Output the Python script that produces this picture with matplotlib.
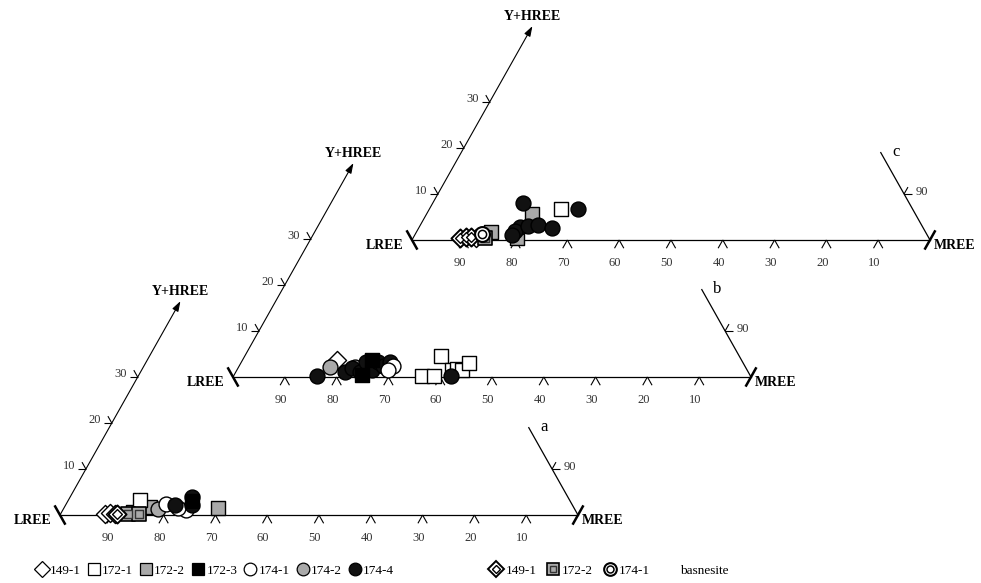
import numpy as np
import matplotlib
matplotlib.use('Agg')
import matplotlib.pyplot as plt
from matplotlib.lines import Line2D

plt.rcParams['font.family'] = ['Liberation Serif', 'DejaVu Serif']

# (LREE %, Y+HREE %); MREE = 100 - LREE - Y+HREE
# diagram a
a_149_1 = [(91.2, 0.3), (90.1, 0.4), (89.3, 0.3)]
a_149_1_bas = [(88.8, 0.2)]
a_172_1 = [(82.9, 3.3)]
a_172_2 = [(81.8, 1.7), (85.6, 0.6), (68.8, 1.5)]
a_172_2_bas = [(86.8, 0.3), (84.6, 0.2)]
a_172_3 = [(73.0, 3.0)]
a_174_1 = [(78.3, 2.4), (75.1, 1.1), (76.5, 1.5)]
a_174_2 = [(80.4, 1.3)]
a_174_4 = [(76.7, 2.2), (72.6, 3.9), (73.4, 2.2)]

# diagram b
b_149_1 = [(78.1, 3.7)]
b_172_1 = [(57.6, 4.6), (63.4, 0.3), (61.1, 0.3), (57.0, 1.5), (55.9, 1.7), (55.0, 1.5), (52.9, 3.0)]
b_172_3 = [(71.3, 3.7), (74.9, 0.4)]
b_174_1 = [(67.9, 2.4), (69.3, 1.5)]
b_174_2 = [(80.2, 2.2), (75.3, 2.2)]
b_174_4 = [(83.6, 0.3), (77.8, 1.1), (76.0, 2.0), (74.9, 1.1), (72.7, 3.3),
           (72.4, 1.5), (70.4, 3.3), (69.8, 2.4), (68.0, 3.3), (57.8, 0.3)]

# diagram c
c_149_1 = [(87.4, 0.4)]
c_149_1_bas = [(90.5, 0.4), (89.3, 0.6), (88.3, 0.6)]
c_172_1 = [(67.9, 6.7)]
c_172_2 = [(83.9, 1.7), (74.0, 5.6), (79.5, 0.4)]
c_172_2_bas = [(85.7, 0.4)]
c_174_1_bas = [(85.8, 1.3)]
c_174_4 = [(74.6, 8.0), (64.6, 6.7), (77.8, 2.8), (79.1, 2.0), (76.1, 3.0),
           (74.0, 3.3), (71.7, 2.6), (80.1, 1.1)]

tick_values = [10, 20, 30, 40, 50, 60, 70, 80, 90]
side_ticks = [10, 20, 30]

H = np.sqrt(3) / 2
GRAY = '#a9a9a9'
offsets = {'a': (0.0, 0.0), 'b': (33.4, 26.0), 'c': (67.95, 51.8)}


def tern(pts, off):
    """(LREE, Y+HREE) -> plot coords"""
    pts = np.asarray(pts, dtype=float).reshape(-1, 2)
    l, y = pts[:, 0], pts[:, 1]
    m = 100 - l - y
    return m + y / 2 + off[0], y * H + off[1]


def seg(ax, p, d, t, lw=0.8):
    ax.plot([p[0], p[0] + d[0] * t], [p[1], p[1] + d[1] * t], color='black', lw=lw,
            solid_capstyle='butt', zorder=2)


def draw_frame(ax, off, letter):
    ox, oy = off
    # base LREE - MREE
    ax.plot([ox, ox + 100], [oy, oy], color='black', lw=0.9, zorder=2)
    # Y+HREE axis with arrow
    tip = (ox + 46.5 / 2, oy + 46.5 * H)
    ax.annotate('', xy=tip, xytext=(ox, oy),
                arrowprops=dict(arrowstyle='-|>,head_length=0.6,head_width=0.2',
                                color='black', lw=0.8, shrinkA=0, shrinkB=0))
    ax.text(tip[0], tip[1] + 1.8, 'Y+HREE', ha='center', va='center',
            fontsize=10, fontweight='bold')
    # right edge stub
    top = (ox + 100 - 19 / 2, oy + 19 * H)
    ax.plot([ox + 100, top[0]], [oy, top[1]], color='black', lw=0.9, zorder=2)
    ax.text(top[0] + 2.2, top[1] + 0.2, letter, ha='left', va='center', fontsize=12)
    # corner marks
    for cx, d in [(ox, (-0.5, H)), (ox + 100, (0.5, H))]:
        ax.plot([cx - d[0] * 2.1, cx + d[0] * 2.1], [oy - d[1] * 2.1, oy + d[1] * 2.1],
                color='black', lw=1.8, solid_capstyle='butt', zorder=2)
    ax.text(ox - 1.6, oy - 1.0, 'LREE', ha='right', va='center', fontsize=10, fontweight='bold')
    ax.text(ox + 100.8, oy - 1.0, 'MREE', ha='left', va='center', fontsize=10, fontweight='bold')
    # bottom ticks (labelled by LREE)
    for v in tick_values:
        p = (ox + 100 - v, oy)
        seg(ax, p, (-0.5, -H), 1.8)
        seg(ax, p, (0.5, -H), 1.8)
        ax.text(p[0] - 0.8, oy - 4.3, str(v), ha='center', va='center', fontsize=9, color='#333333')
    # left ticks
    for v in side_ticks:
        p = (ox + v / 2, oy + v * H)
        seg(ax, p, (-1, 0), 1.5)
        seg(ax, p, (-0.5, H), 1.5)
        ax.text(p[0] - 2.1, p[1] + 0.6, str(v), ha='right', va='center', fontsize=9, color='#333333')
    # right tick
    p = (ox + 100 - 5, oy + 10 * H)
    seg(ax, p, (1, 0), 1.5)
    seg(ax, p, (0.5, H), 1.5)
    ax.text(p[0] + 2.3, p[1] + 0.3, '90', ha='left', va='center', fontsize=9, color='#333333')


# marker styles
sty = {
    '149-1': dict(marker='D', s=85, facecolor='white', edgecolor='black'),
    '172-1': dict(marker='s', s=95, facecolor='white', edgecolor='black'),
    '172-2': dict(marker='s', s=95, facecolor=GRAY, edgecolor='black'),
    '172-3': dict(marker='s', s=95, facecolor='black', edgecolor='black'),
    '174-1': dict(marker='o', s=115, facecolor='white', edgecolor='black'),
    '174-2': dict(marker='o', s=115, facecolor=GRAY, edgecolor='black'),
    '174-4': dict(marker='o', s=115, facecolor='#111111', edgecolor='black'),
}
bas_sty = {
    '149-1': [dict(marker='D', s=85, facecolor='white', edgecolor='black', linewidths=1.4),
              dict(marker='D', s=25, facecolor='white', edgecolor='black', linewidths=1.0)],
    '172-2': [dict(marker='s', s=95, facecolor=GRAY, edgecolor='black', linewidths=1.2),
              dict(marker='s', s=32, facecolor=GRAY, edgecolor='#333333', linewidths=1.0)],
    '174-1': [dict(marker='o', s=115, facecolor='white', edgecolor='black', linewidths=1.5),
              dict(marker='o', s=35, facecolor='white', edgecolor='black', linewidths=1.1)],
}

fig = plt.figure(figsize=(9.81, 5.83), dpi=100)
ax = fig.add_axes([0, 0, 1, 1])
ax.set_xlim(-11.58, 177.8)
ax.set_ylim(-12.8, 96.99)
ax.axis('off')

for letter, off in offsets.items():
    draw_frame(ax, off, letter)

plain = [
    ('a', '172-2', a_172_2), ('a', '172-1', a_172_1), ('a', '174-2', a_174_2),
    ('a', '174-1', a_174_1), ('a', '174-4', a_174_4), ('a', '172-3', a_172_3),
    ('a', '149-1', a_149_1),
    ('b', '149-1', b_149_1), ('b', '172-1', b_172_1), ('b', '174-2', b_174_2),
    ('b', '174-4', b_174_4), ('b', '172-3', b_172_3), ('b', '174-1', b_174_1),
    ('c', '172-1', c_172_1), ('c', '172-2', c_172_2), ('c', '174-4', c_174_4),
    ('c', '149-1', c_149_1),
]
for letter, name, pts in plain:
    x, y = tern(pts, offsets[letter])
    ax.scatter(x, y, linewidths=1.0, zorder=3, **sty[name])

bas = [('a', '172-2', a_172_2_bas), ('a', '149-1', a_149_1_bas),
       ('c', '149-1', c_149_1_bas), ('c', '172-2', c_172_2_bas), ('c', '174-1', c_174_1_bas)]
for letter, name, pts in bas:
    x, y = tern(pts, offsets[letter])
    for k in bas_sty[name]:
        ax.scatter(x, y, zorder=4, **k)


def handle(st, lw=0.9, scale=0.85):
    ms = np.sqrt(st['s']) * scale
    return Line2D([], [], ls='', marker=st['marker'], ms=ms, mfc=st['facecolor'],
                  mec=st['edgecolor'], mew=st.get('linewidths', lw))


names = ['149-1', '172-1', '172-2', '172-3', '174-1', '174-2', '174-4']
fig.legend([handle(sty[n]) for n in names], names, loc='center left',
           bbox_to_anchor=(0.03, 0.021), ncol=7, frameon=False, fontsize=9.5,
           handlelength=0.9, handletextpad=0.15, columnspacing=0.55, borderpad=0)
bas_names = ['149-1', '172-2', '174-1']
fig.legend([tuple(handle(k) for k in bas_sty[n]) for n in bas_names], bas_names,
           loc='center left', bbox_to_anchor=(0.493, 0.021), ncol=3, frameon=False,
           fontsize=9.5, handlelength=0.9, handletextpad=0.25, columnspacing=0.8, borderpad=0)
fig.text(0.693, 0.021, 'basnesite', ha='left', va='center', fontsize=9.5)

fig.savefig('out.png', dpi=100)
